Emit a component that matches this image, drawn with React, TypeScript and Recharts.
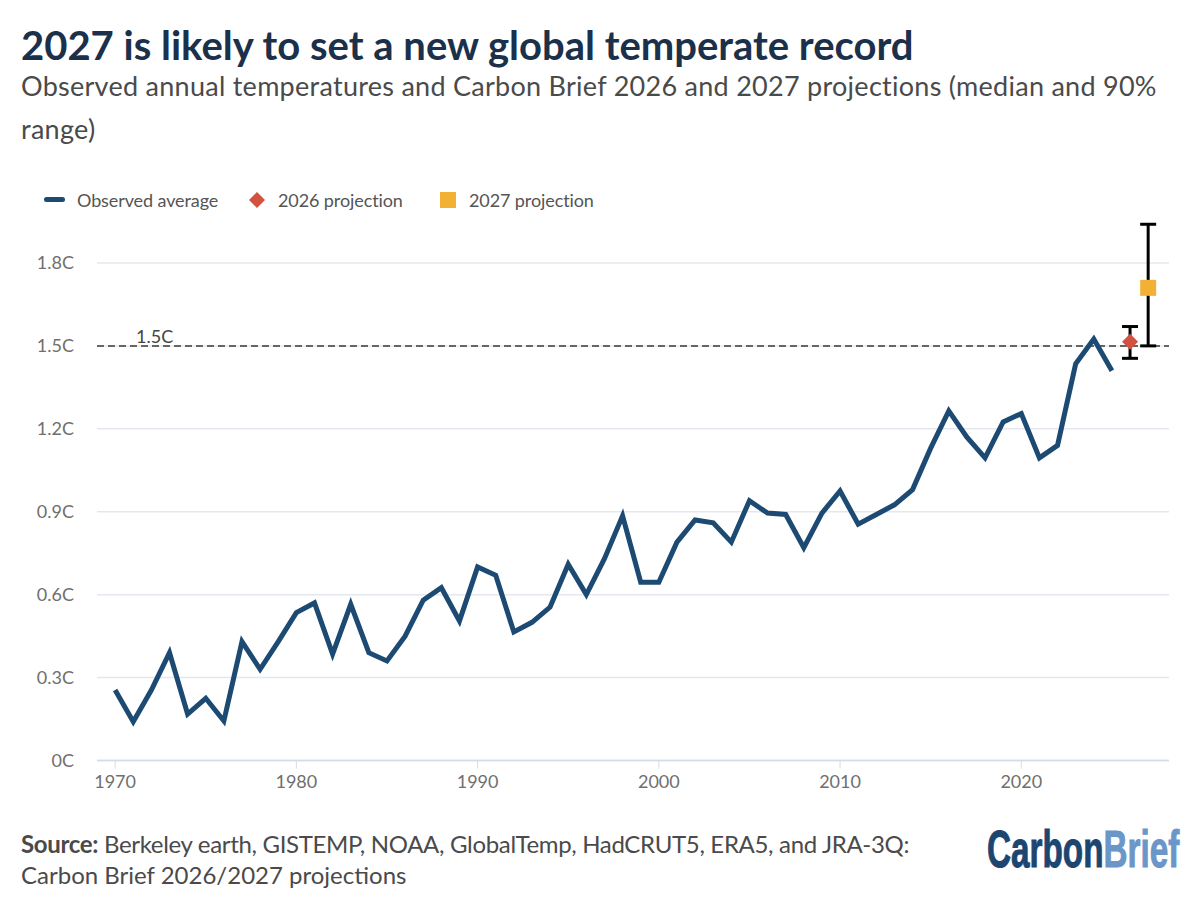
import { CartesianGrid, ComposedChart, ErrorBar, Line, ReferenceLine, XAxis, YAxis } from 'recharts';

const years = [
  1970, 1971, 1972, 1973, 1974, 1975, 1976, 1977, 1978, 1979,
  1980, 1981, 1982, 1983, 1984, 1985, 1986, 1987, 1988, 1989,
  1990, 1991, 1992, 1993, 1994, 1995, 1996, 1997, 1998, 1999,
  2000, 2001, 2002, 2003, 2004, 2005, 2006, 2007, 2008, 2009,
  2010, 2011, 2012, 2013, 2014, 2015, 2016, 2017, 2018, 2019,
  2020, 2021, 2022, 2023, 2024, 2025,
];
const observed = [
  0.255, 0.14, 0.255, 0.39, 0.168, 0.225, 0.143, 0.43, 0.33, 0.43,
  0.535, 0.57, 0.385, 0.565, 0.39, 0.36, 0.45, 0.58, 0.625, 0.505,
  0.7, 0.67, 0.465, 0.5, 0.555, 0.71, 0.6, 0.73, 0.885, 0.645,
  0.645, 0.79, 0.87, 0.86, 0.79, 0.94, 0.895, 0.89, 0.77, 0.895,
  0.975, 0.855, 0.89, 0.925, 0.98, 1.13, 1.265, 1.17, 1.095, 1.225,
  1.255, 1.095, 1.14, 1.435, 1.525, 1.41,
];
const xTicks = [1970, 1980, 1990, 2000, 2010, 2020];
const yTicks = [0, 0.3, 0.6, 0.9, 1.2, 1.5, 1.8];

// median with distance down / up to the 90% range
const projection2026 = { year: 2026, p2026: 1.515, err2026: [0.06, 0.055] };
const projection2027 = { year: 2027, p2027: 1.71, err2027: [0.21, 0.23] };

const rows = [
  ...years.map((year, i) => ({ year, observed: observed[i] })),
  projection2026,
  projection2027,
];

const NAVY = '#1c4a72';
const RED = '#d2513f';
const AMBER = '#f2b134';
const BODY_FONT = 'Lato, sans-serif';

function Diamond({ cx, cy }: any) {
  if (cy == null) return null;
  return <path d={`M${cx} ${cy - 8}L${cx + 8} ${cy}L${cx} ${cy + 8}L${cx - 8} ${cy}Z`} fill={RED} />;
}

function Square({ cx, cy }: any) {
  if (cy == null) return null;
  return <rect x={cx - 8} y={cy - 8} width={16} height={16} fill={AMBER} />;
}

function Text({ x, y, style, children }: any) {
  return (
    <div style={{ position: 'absolute', left: x, top: y, whiteSpace: 'nowrap', fontFamily: BODY_FONT, ...style }}>
      {children}
    </div>
  );
}

const legendText = { fontSize: 18, lineHeight: '24px', color: '#555', letterSpacing: -0.1 };
const subtitleText = { fontSize: 27, lineHeight: '40px', color: '#4a4a4a', letterSpacing: 0.27 };

export default function App() {
  return (
    <div style={{ position: 'absolute', left: 0, top: 0, width: 1200, height: 902, background: '#fff', overflow: 'hidden' }}>
      <ComposedChart
        width={1200}
        height={902}
        data={rows}
        margin={{ top: 221.5, right: 31, left: 0, bottom: 0 }}
      >
        <CartesianGrid horizontal vertical={false} stroke="#e4e8ee" strokeWidth={1.5} horizontalValues={yTicks} />
        <XAxis
          dataKey="year"
          type="number"
          domain={[1969, 2028.15]}
          ticks={xTicks}
          height={141.5}
          tick={{ fill: '#6f6f6f', fontSize: 18, fontFamily: BODY_FONT }}
          tickLine={{ stroke: '#d3dce8' }}
          tickSize={8}
          axisLine={{ stroke: '#d3dce8', strokeWidth: 1.5 }}
          tickMargin={7}
        />
        <YAxis
          type="number"
          domain={[0, 1.95]}
          ticks={yTicks}
          width={97}
          tick={{ fill: '#6f6f6f', fontSize: 18, fontFamily: BODY_FONT }}
          tickFormatter={(v) => `${v}C`}
          tickLine={false}
          axisLine={false}
          tickMargin={17}
        />
        <ReferenceLine
          y={1.5}
          stroke="#666"
          strokeWidth={2}
          strokeDasharray="7 4"
          label={{ value: '1.5C', position: 'insideBottomLeft', dx: 34, dy: 2, fill: '#444', fontSize: 18, fontFamily: BODY_FONT }}
        />
        <Line
          dataKey="observed"
          stroke={NAVY}
          strokeWidth={5}
          dot={false}
          strokeLinejoin="miter"
          isAnimationActive={false}
        />
        <Line dataKey="p2026" stroke="none" dot={<Diamond />} isAnimationActive={false}>
          <ErrorBar dataKey="err2026" direction="y" width={8} stroke="#000" strokeWidth={3} isAnimationActive={false} />
        </Line>
        <Line dataKey="p2027" stroke="none" dot={<Square />} isAnimationActive={false}>
          <ErrorBar dataKey="err2027" direction="y" width={8} stroke="#000" strokeWidth={3} isAnimationActive={false} />
        </Line>
      </ComposedChart>

      <Text x={21} y={17} style={{ fontSize: 40, lineHeight: '56px', fontWeight: 700, color: '#1b304a' }}>
        2027 is likely to set a new global temperate record
      </Text>
      <Text x={21} y={66} style={subtitleText}>
        Observed annual temperatures and Carbon Brief 2026 and 2027 projections (median and 90%
      </Text>
      <Text x={21} y={109} style={subtitleText}>
        range)
      </Text>

      <div style={{ position: 'absolute', left: 44, top: 197, width: 21, height: 5, borderRadius: 3, background: NAVY }} />
      <Text x={77} y={188} style={legendText}>Observed average</Text>
      <svg style={{ position: 'absolute', left: 248, top: 191 }} width={18} height={18}>
        <path d="M9 1L17 9L9 17L1 9Z" fill={RED} />
      </svg>
      <Text x={278} y={188} style={legendText}>2026 projection</Text>
      <div style={{ position: 'absolute', left: 440, top: 192, width: 16, height: 16, background: AMBER }} />
      <Text x={469} y={188} style={legendText}>2027 projection</Text>

      <Text x={21} y={827} style={{ fontSize: 24, lineHeight: '34px', color: '#4a4a4a', letterSpacing: -0.33 }}>
        <b>Source:</b> Berkeley earth, GISTEMP, NOAA, GlobalTemp, HadCRUT5, ERA5, and JRA-3Q:
      </Text>
      <Text x={21} y={858} style={{ fontSize: 24, lineHeight: '34px', color: '#4a4a4a' }}>
        Carbon Brief 2026/2027 projections
      </Text>
      <Text x={987} y={819} style={{ fontFamily: '"Liberation Sans", sans-serif', fontSize: 52, lineHeight: '60px', fontWeight: 700, color: '#1c4570', WebkitTextStroke: '1px currentColor', transform: 'scaleX(0.64)', transformOrigin: 'left top' }}>
        Carbon<span style={{ color: '#6a96c8' }}>Brief</span>
      </Text>
    </div>
  );
}
